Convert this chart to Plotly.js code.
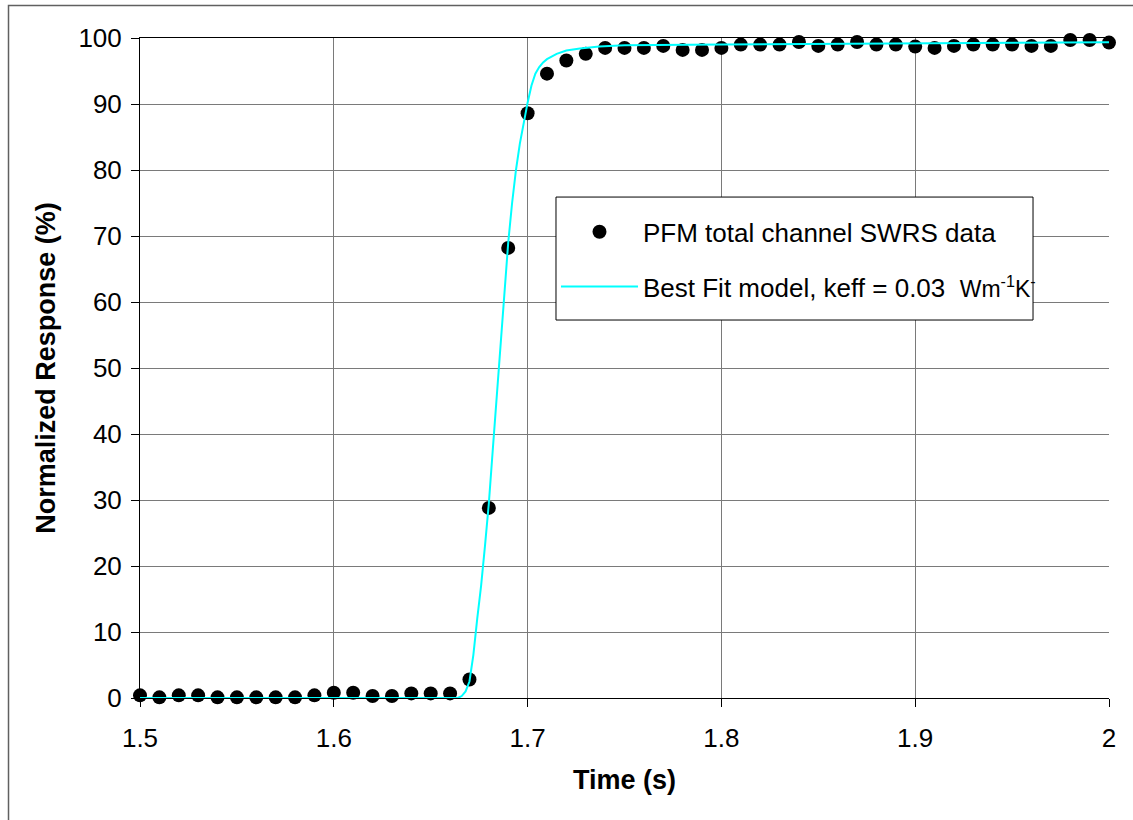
<!DOCTYPE html>
<html>
<head>
<meta charset="utf-8">
<script src="https://cdn.plot.ly/plotly-3.0.1.min.js"></script>
<style>html,body{margin:0;padding:0;background:#fff;}#chart{width:1133px;height:820px;}</style>
</head>
<body>
<div id="chart"></div>
<script>
// Measured data (time in s, normalized response in %)
const dataTime = [1.50,1.51,1.52,1.53,1.54,1.55,1.56,1.57,1.58,1.59,
                  1.60,1.61,1.62,1.63,1.64,1.65,1.66,1.67,1.68,1.69,
                  1.70,1.71,1.72,1.73,1.74,1.75,1.76,1.77,1.78,1.79,
                  1.80,1.81,1.82,1.83,1.84,1.85,1.86,1.87,1.88,1.89,
                  1.90,1.91,1.92,1.93,1.94,1.95,1.96,1.97,1.98,1.99,2.00];
const dataResponse = [0.4,0.1,0.4,0.4,0.1,0.1,0.1,0.1,0.1,0.4,
                      0.8,0.8,0.3,0.3,0.7,0.7,0.7,2.8,28.8,68.2,
                      88.6,94.6,96.6,97.6,98.5,98.5,98.5,98.8,98.2,98.2,
                      98.5,99.0,99.0,99.0,99.4,98.8,99.0,99.4,99.0,99.0,
                      98.7,98.5,98.8,99.0,99.0,99.0,98.8,98.8,99.7,99.7,99.3];

// Best fit model curve
const modelTime = [1.50,1.660,1.664,1.666,1.668,1.670,1.672,1.674,1.676,1.678,
                   1.680,1.682,1.684,1.686,1.688,1.690,1.692,1.694,1.696,1.698,
                   1.700,1.702,1.704,1.706,1.708,1.710,1.715,1.720,1.727,1.737,
                   1.750,1.800,1.900,2.000];
const modelResponse = [0,0,0,0.3,1.0,2.5,6.5,12,17,23,
                       29.5,37.5,45.5,53.5,61.5,69,75,80,84,87.3,
                       90.2,92.8,94.6,95.6,96.3,96.8,97.6,98.1,98.4,98.7,
                       98.9,99.0,99.2,99.35];

const seriesNames = ["PFM total channel SWRS data",
                     "Best Fit model, keff = 0.03\u00a0 <span style=\"font-size:23px\">Wm<sup>-1</sup>K<sup>-</sup></span>"];
const xTicks = [1.5,1.6,1.7,1.8,1.9,2];
const xTickText = ["1.5","1.6","1.7","1.8","1.9","2"];
const yTicks = [0,10,20,30,40,50,60,70,80,90,100];

const FONT = "Liberation Sans, Arial, sans-serif";

const traces = [
  {
    x: dataTime, y: dataResponse, type: "scatter", mode: "markers",
    name: seriesNames[0], legendgroup: "a",
    marker: {color: "#000000", size: 14, line: {width: 0}},
    cliponaxis: false
  },
  {
    x: modelTime, y: modelResponse, type: "scatter", mode: "lines",
    name: seriesNames[1], legendgroup: "b",
    line: {color: "#00FFFF", width: 2}
  }
];

const layout = {
  width: 1133, height: 820,
  margin: {l: 140, r: 24, t: 38, b: 122, pad: 0},
  paper_bgcolor: "#ffffff", plot_bgcolor: "#ffffff",
  font: {family: FONT, size: 26, color: "#000000"},
  showlegend: true,
  legend: {
    x: 0.4293, y: 0.742, xanchor: "left", yanchor: "top",
    bgcolor: "rgba(0,0,0,0)", borderwidth: 0,
    font: {family: FONT, size: 26, color: "#000000"},
    traceorder: "grouped", tracegroupgap: 18, itemwidth: 77
  },
  xaxis: {
    range: [1.5, 2.0], tickmode: "array", tickvals: xTicks, ticktext: xTickText,
    showgrid: true, gridcolor: "#7a7a7a", gridwidth: 1,
    showline: true, linecolor: "#000000", linewidth: 1, mirror: true,
    ticks: "outside", ticklen: 8, tickcolor: "#000000",
    ticklabelstandoff: 9,
    zeroline: false,
    tickfont: {family: FONT, size: 26, color: "#000000"},
    title: {text: "<b>Time (s)</b>", font: {family: FONT, size: 27, color: "#000000"}, standoff: 17}
  },
  yaxis: {
    range: [0, 100], tickmode: "array", tickvals: yTicks,
    showgrid: true, gridcolor: "#7a7a7a", gridwidth: 1,
    showline: true, linecolor: "#000000", linewidth: 1,
    ticks: "outside", ticklen: 8, tickcolor: "#000000",
    ticklabelstandoff: 4,
    zeroline: false,
    tickfont: {family: FONT, size: 26, color: "#000000"},
    title: {text: "<b>Normalized Response (%)</b>", font: {family: FONT, size: 27, color: "#000000"}, standoff: 14}
  },
  shapes: [
    {type: "rect", xref: "paper", yref: "paper",
     x0: -0.1357, x1: 1.03, y0: -0.19, y1: 1.0492,
     line: {color: "#606060", width: 1.5}, fillcolor: "rgba(0,0,0,0)", layer: "below"},
    {type: "rect", xref: "paper", yref: "paper",
     x0: 0.4293, x1: 0.9216, y0: 0.5727, y1: 0.759,
     line: {color: "#000000", width: 1}, fillcolor: "#ffffff", layer: "above"}
  ]
};

Plotly.newPlot("chart", traces, layout, {displayModeBar: false, staticPlot: true});
</script>
</body>
</html>
